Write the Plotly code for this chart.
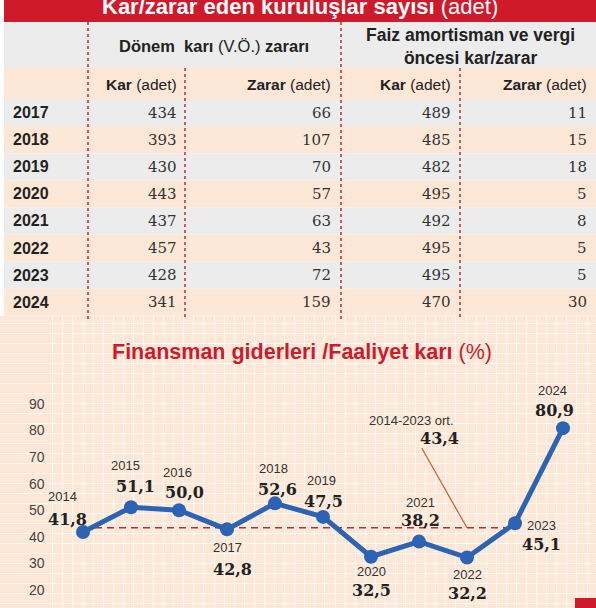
import plotly.graph_objects as go

W, H = 596, 608

# --- table data: number of companies with profit / loss ---
tbl_years = ["2017", "2018", "2019", "2020", "2021", "2022", "2023", "2024"]
donem_kar = [434, 393, 430, 443, 437, 457, 428, 341]
donem_zarar = [66, 107, 70, 57, 63, 43, 72, 159]
favok_kar = [489, 485, 482, 495, 492, 495, 495, 470]
favok_zarar = [11, 15, 18, 5, 8, 5, 5, 30]

# --- line chart data: financing expenses / operating profit (%) ---
years = [2014, 2015, 2016, 2017, 2018, 2019, 2020, 2021, 2022, 2023, 2024]
ratio = [41.8, 51.1, 50.0, 42.8, 52.6, 47.5, 32.5, 38.2, 32.2, 45.1, 80.9]
avg_value = 43.4
avg_label = "2014-2023 ort."
y_ticks = [20, 30, 40, 50, 60, 70, 80, 90]

RED = "#cf1a2b"
PEACH = "#fde8d8"
GRAY = "#ececec"
BLUE = "#2c63b4"
DOT = "#b2303b"
SANS = "Liberation Sans Narrow, Liberation Sans, Arial"
SERIF = "DejaVu Serif, Liberation Serif"


def px(x):
    return x / W


def py(y):
    return 1 - y / H


def fmt(v):
    return f"{v:.1f}".replace(".", ",")


def label(x, y, text, font, xanchor="center"):
    return dict(xref="paper", yref="paper", x=px(x), y=py(y), text=text, showarrow=False,
                xanchor=xanchor, yanchor="middle", font=font)


shapes = []
annotations = []

# red title bar
shapes.append(dict(type="rect", xref="paper", yref="paper", x0=px(4), x1=1,
                   y0=py(22), y1=1, fillcolor=RED, line_width=0, layer="below"))
annotations.append(label(300, 7, "<b>Kar/zarar eden kuruluşlar sayısı</b> (adet)",
                         dict(family=SANS, size=22, color="white")))

# table bands
row_top, row_h = 99, 27.1
shapes.append(dict(type="rect", xref="paper", yref="paper", x0=px(4), x1=1,
                   y0=py(68), y1=py(22), fillcolor=GRAY, line_width=0, layer="below"))
shapes.append(dict(type="rect", xref="paper", yref="paper", x0=px(4), x1=1,
                   y0=py(row_top), y1=py(68), fillcolor=PEACH, line_width=0, layer="below"))
for i in range(len(tbl_years)):
    y0 = row_top + i * row_h
    shapes.append(dict(type="rect", xref="paper", yref="paper", x0=px(4), x1=1,
                       y0=py(y0 + row_h), y1=py(y0),
                       fillcolor=GRAY if i % 2 == 0 else PEACH, line_width=0, layer="below"))

table_bottom = row_top + len(tbl_years) * row_h
for x, top in [(88, 22), (185, 68), (341, 22), (460, 68)]:
    shapes.append(dict(type="line", xref="paper", yref="paper", x0=px(x), x1=px(x),
                       y0=py(top), y1=py(table_bottom + 4),
                       line=dict(color=DOT, width=1.5, dash="dot")))

annotations.append(label(214, 46, "<b>Dönem  karı</b> (V.Ö.) <b>zararı</b>",
                         dict(family=SANS, size=16.5, color="#222")))
annotations.append(label(470, 47, "<b>Faiz amortisman ve vergi<br>öncesi kar/zarar</b>",
                         dict(family=SANS, size=17.5, color="#222")))

col_right = [179, 333, 453, 589]
sub_heads = ["<b>Kar</b> (adet)", "<b>Zarar</b> (adet)", "<b>Kar</b> (adet)", "<b>Zarar</b> (adet)"]
for xr, t in zip(col_right, sub_heads):
    annotations.append(label(xr, 85, t, dict(family=SANS, size=15.5, color="#222"), "right"))

num_font = dict(family=SERIF, size=15, color="#333")
for i, yr in enumerate(tbl_years):
    yc = row_top + (i + 0.5) * row_h
    annotations.append(label(11, yc, f"<b>{yr}</b>",
                             dict(family=SANS, size=16, color="#222"), "left"))
    for xr, col in zip(col_right, [donem_kar, donem_zarar, favok_kar, favok_zarar]):
        annotations.append(label(xr, yc, str(col[i]), num_font, "right"))

# chart title
annotations.append(label(302, 352, "<b>Finansman giderleri /Faaliyet karı</b> (%)",
                         dict(family=SANS, size=21.5, color=RED)))

# point labels: (xshift year, yshift year, yshift value, xshift value)
label_pos = [(-21, 36, 13, -16), (-6, 42, 21, 4), (-2, 38, 18, 5), (0, -18, -40, 5),
             (-2, 35, 14, 2), (-2, 36, 15, 0), (0, -15, -34, 0), (1, 39, 21, 1),
             (0, -17, -36, 0), (26, -2, -21, 26), (-11, 38, 18, -9)]
for yr, v, (dx, dyy, dyv, dxv) in zip(years, ratio, label_pos):
    annotations.append(dict(x=yr, y=v, xref="x", yref="y", text=str(yr), showarrow=False,
                            xshift=dx, yshift=dyy, xanchor="center", yanchor="middle",
                            font=dict(family="Liberation Sans", size=13, color="#333")))
    annotations.append(dict(x=yr, y=v, xref="x", yref="y", text=f"<b>{fmt(v)}</b>",
                            showarrow=False, xshift=dxv, yshift=dyv,
                            xanchor="center", yanchor="middle",
                            font=dict(family=SERIF, size=16, color="#222")))

# average label with leader
annotations.append(dict(x=years[8], y=avg_value, xref="x", yref="y", text=avg_label,
                        showarrow=False, xshift=-56, yshift=107,
                        xanchor="center", yanchor="middle",
                        font=dict(family="Liberation Sans", size=13, color="#333")))
annotations.append(dict(x=years[8], y=avg_value, xref="x", yref="y",
                        text=f"<b>{fmt(avg_value)}</b>", showarrow=False, xshift=-28, yshift=89,
                        xanchor="center", yanchor="middle",
                        font=dict(family=SERIF, size=16, color="#222")))
annotations.append(dict(x=years[8], y=avg_value, xref="x", yref="y", text="",
                        showarrow=True, arrowhead=0, arrowwidth=1.2, arrowcolor="#d9542f",
                        ax=-46, ay=-81, standoff=0, startstandoff=0))

# small logo block bottom right
shapes.append(dict(type="rect", xref="paper", yref="paper", x0=px(575), x1=1,
                   y0=0, y1=py(598), fillcolor=RED, line_width=0))

fig = go.Figure()
fig.add_trace(go.Scatter(x=[years[0], years[9]], y=[avg_value, avg_value], mode="lines",
                         line=dict(color="#a8343c", width=1.6, dash="7px,5px"),
                         hoverinfo="skip"))
fig.add_trace(go.Scatter(x=years, y=ratio, mode="lines+markers",
                         line=dict(color=BLUE, width=5),
                         marker=dict(color=BLUE, size=14)))

x0 = years[0] - 83 / 48
x1 = years[-1] + 33 / 48
fig.update_layout(
    width=W, height=H,
    margin=dict(l=0, r=0, t=0, b=0),
    paper_bgcolor="white",
    plot_bgcolor=PEACH,
    showlegend=False,
    shapes=shapes,
    annotations=annotations,
    xaxis=dict(domain=[0, 1], range=[x0, x1], showticklabels=False, ticks="",
               showgrid=True, gridcolor="rgba(255,255,255,0.75)", gridwidth=1,
               tick0=years[0], dtick=0.21, zeroline=False, showline=False),
    yaxis=dict(domain=[0, py(table_bottom)], range=[13.2, 90 + (404 - table_bottom) / 2.657],
               tickvals=y_ticks, ticks="", showgrid=False, zeroline=False, showline=False,
               ticklabelposition="inside", ticklabelstandoff=26,
               tickfont=dict(family="Liberation Sans", size=14, color="#444"),
               minor=dict(showgrid=True, tick0=0, dtick=3.76,
                          gridcolor="rgba(255,255,255,0.75)", gridwidth=1)),
)

fig.write_html("out.html", config={"displayModeBar": False},
               post_script="document.body.style.margin='0';")
